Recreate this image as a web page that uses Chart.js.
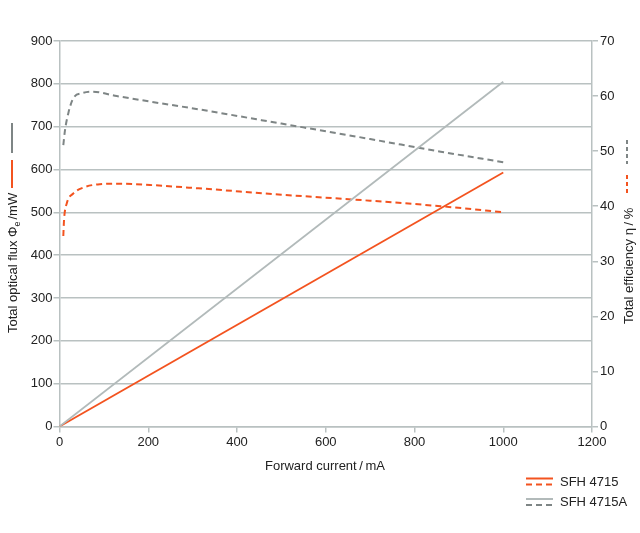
<!DOCTYPE html>
<html>
<head>
<meta charset="utf-8">
<script src="https://cdn.jsdelivr.net/npm/chart.js@4.4.1/dist/chart.umd.min.js"></script>
<style>
  html, body { margin: 0; padding: 0; background: #fff; }
  canvas { display: block; }
</style>
</head>
<body>
<canvas id="chart" width="640" height="533"></canvas>
<script>
// forward current (mA) and values
const fluxCurrent = [0, 1000];
const flux4715 = [0, 593];
const flux4715A = [0, 805];

const effCurrent4715 = [8.6, 10.2, 16.3, 31, 54, 91, 129, 204, 313, 500, 700, 859, 1000];
const eff4715 = [34.6, 37.5, 40.5, 42.3, 43.4, 44.0, 44.1, 43.85, 43.25, 42.1, 41.0, 40.0, 38.9];

const effCurrent4715A = [8.6, 12.4, 19.9, 31, 50, 73, 129, 204, 313, 500, 700, 859, 1000];
const eff4715A = [51.1, 53.8, 56.9, 59.6, 60.5, 60.8, 60.0, 59.0, 57.6, 55.0, 52.2, 49.9, 48.0];

const xTicks = [0, 200, 400, 600, 800, 1000, 1200];
const legendNames = ['SFH 4715', 'SFH 4715A'];

const ORANGE = '#f3531f';
const GRAY_SOLID = '#b2baba';
const GRAY_DASH = '#7e8585';
const GRID = '#b9c1c1';
const FONT = '"Liberation Sans", Arial, sans-serif';

function pts(xs, ys) { return xs.map((x, i) => ({ x: x, y: ys[i] })); }

// axis titles and legend drawn by hand (marker glyphs + subscript)
const decor = {
  id: 'decor',
  afterDraw(chart) {
    const ctx = chart.ctx;
    ctx.save();
    ctx.fillStyle = '#222';
    ctx.font = '13px ' + FONT;
    ctx.textBaseline = 'alphabetic';

    // x title
    ctx.textAlign = 'center';
    ctx.fillText('Forward current\u2009/\u2009mA', 325, 470);

    // left title
    ctx.save();
    ctx.translate(17, 333);
    ctx.rotate(-Math.PI / 2);
    ctx.textAlign = 'left';
    let s1 = 'Total optical flux \u03A6';
    ctx.fillText(s1, 0, 0);
    let w = ctx.measureText(s1).width;
    ctx.font = '9px ' + FONT;
    ctx.fillText('e', w, 3);
    w += ctx.measureText('e').width + 2;
    ctx.font = '13px ' + FONT;
    ctx.fillText('/mW', w, 0);
    ctx.restore();

    // right title
    ctx.save();
    ctx.translate(633, 324);
    ctx.rotate(-Math.PI / 2);
    ctx.textAlign = 'left';
    ctx.fillText('Total efficiency \u03B7\u2009/\u2009%', 0, 0);
    ctx.restore();

    // title markers
    ctx.lineWidth = 2;
    ctx.strokeStyle = GRAY_DASH;
    ctx.beginPath(); ctx.moveTo(12, 123); ctx.lineTo(12, 153); ctx.stroke();
    ctx.strokeStyle = ORANGE;
    ctx.beginPath(); ctx.moveTo(12, 160); ctx.lineTo(12, 188); ctx.stroke();
    ctx.setLineDash([4, 3]);
    ctx.strokeStyle = GRAY_DASH;
    ctx.beginPath(); ctx.moveTo(627, 140); ctx.lineTo(627, 164); ctx.stroke();
    ctx.strokeStyle = ORANGE;
    ctx.beginPath(); ctx.moveTo(627, 175); ctx.lineTo(627, 193); ctx.stroke();

    // legend
    const rows = [
      { name: legendNames[0], solid: ORANGE, dash: ORANGE, y: 478.5 },
      { name: legendNames[1], solid: GRAY_SOLID, dash: GRAY_DASH, y: 499 }
    ];
    ctx.textAlign = 'left';
    ctx.textBaseline = 'middle';
    for (const r of rows) {
      ctx.setLineDash([]);
      ctx.strokeStyle = r.solid;
      ctx.beginPath(); ctx.moveTo(526, r.y); ctx.lineTo(553, r.y); ctx.stroke();
      ctx.setLineDash([6, 4]);
      ctx.strokeStyle = r.dash;
      ctx.beginPath(); ctx.moveTo(526, r.y + 6); ctx.lineTo(553, r.y + 6); ctx.stroke();
      ctx.fillStyle = '#222';
      ctx.fillText(r.name, 560, r.y + 3.5);
    }
    ctx.restore();
  }
};

new Chart(document.getElementById('chart').getContext('2d'), {
  type: 'line',
  data: {
    datasets: [
      { data: pts(fluxCurrent, flux4715A), yAxisID: 'y', borderColor: GRAY_SOLID, borderWidth: 1.8, pointRadius: 0, tension: 0 },
      { data: pts(fluxCurrent, flux4715), yAxisID: 'y', borderColor: ORANGE, borderWidth: 1.8, pointRadius: 0, tension: 0 },
      { data: pts(effCurrent4715A, eff4715A), yAxisID: 'y2', borderColor: GRAY_DASH, borderWidth: 2, borderDash: [6, 4], pointRadius: 0, cubicInterpolationMode: 'monotone' },
      { data: pts(effCurrent4715, eff4715), yAxisID: 'y2', borderColor: ORANGE, borderWidth: 2, borderDash: [6, 4], pointRadius: 0, cubicInterpolationMode: 'monotone' }
    ]
  },
  options: {
    responsive: false, animation: false, maintainAspectRatio: false,
    layout: { padding: { top: 41, left: 0, right: 0, bottom: 0 } },
    plugins: { legend: { display: false }, tooltip: { enabled: false } },
    scales: {
      x: {
        type: 'linear', min: 0, max: 1200,
        afterBuildTicks: (s) => { s.ticks = xTicks.map(v => ({ value: v })); },
        afterFit: (s) => { s.height = 106.5; },
        grid: { drawOnChartArea: false, drawTicks: true, tickLength: 6, color: GRID, lineWidth: 1.5 },
        border: { color: GRID, width: 1.5 },
        ticks: { color: '#222', font: { family: FONT, size: 13 }, padding: 2, maxRotation: 0, callback: (v) => String(v) }
      },
      y: {
        position: 'left', min: 0, max: 900,
        afterFit: (s) => { s.width = 59.5; },
        grid: { color: GRID, lineWidth: 1.5, tickLength: 6 },
        border: { color: GRID, width: 1.5 },
        ticks: { stepSize: 100, color: '#222', font: { family: FONT, size: 13 }, padding: 1 }
      },
      y2: {
        position: 'right', min: 0, max: 70,
        afterFit: (s) => { s.width = 48; },
        grid: { drawOnChartArea: false, color: GRID, lineWidth: 1.5, tickLength: 6 },
        border: { color: GRID, width: 1.5 },
        ticks: { stepSize: 10, color: '#222', font: { family: FONT, size: 13 }, padding: 2 }
      }
    }
  },
  plugins: [decor]
});
</script>
</body>
</html>
